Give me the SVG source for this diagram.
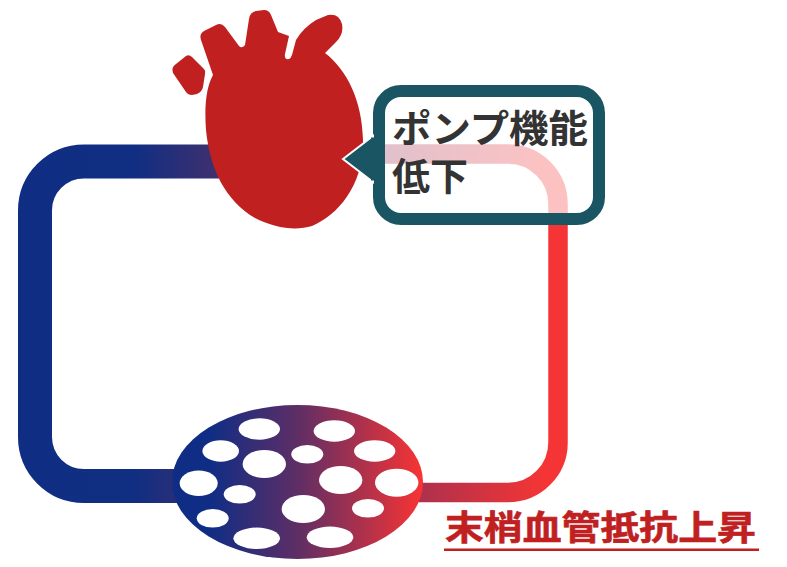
<svg xmlns="http://www.w3.org/2000/svg" width="787" height="567" viewBox="0 0 787 567">
  <defs>
    <linearGradient id="veinGrad" gradientUnits="userSpaceOnUse" x1="0" y1="0" x2="230" y2="0">
      <stop offset="0" stop-color="#0f2d82"/>
      <stop offset="0.58" stop-color="#102e82"/>
      <stop offset="1" stop-color="#46306c"/>
    </linearGradient>
    <linearGradient id="arteryGrad" gradientUnits="userSpaceOnUse" x1="390" y1="0" x2="545" y2="0">
      <stop offset="0" stop-color="#9c3052"/>
      <stop offset="1" stop-color="#f53535"/>
    </linearGradient>
    <linearGradient id="bedGrad" x1="0" y1="0" x2="1" y2="0">
      <stop offset="0" stop-color="#0f2d85"/>
      <stop offset="0.15" stop-color="#0f2d85"/>
      <stop offset="0.5" stop-color="#5e2e65"/>
      <stop offset="1" stop-color="#f83434"/>
    </linearGradient>
    <style>
      .band { fill: none; stroke-linecap: butt; stroke-linejoin: round; }
      .hole { fill: #ffffff; }
      .jp { font-family: "Noto Sans CJK JP", "Noto Sans", sans-serif; font-weight: 700; }
    </style>
  </defs>

  <!-- circulation loop -->
  <g id="connectors">
    <path id="vein" class="band" stroke="url(#veinGrad)" stroke-width="34"
          d="M 230 161.5 H 84 A 49 49 0 0 0 35 210.5 V 437 A 49 49 0 0 0 84 486 H 210"/>
    <path id="artery" class="band" stroke="url(#arteryGrad)" stroke-width="19.5"
          d="M 350 154 H 508 A 50 50 0 0 1 558 204 V 442 A 50 50 0 0 1 508 492.5 H 400"/>
  </g>

  <!-- peripheral vascular bed -->
  <g id="vascular-bed">
    <ellipse cx="297.5" cy="482" rx="125.5" ry="77" fill="url(#bedGrad)"/>
    <ellipse class="hole" cx="259.3" cy="429" rx="20.7" ry="10.7"/>
    <ellipse class="hole" cx="334.3" cy="431" rx="20.7" ry="10.7"/>
    <ellipse class="hole" cx="220.7" cy="451" rx="18.3" ry="10.7"/>
    <ellipse class="hole" cx="264.3" cy="464" rx="21.7" ry="14"/>
    <ellipse class="hole" cx="307.3" cy="454.3" rx="16" ry="9.3"/>
    <ellipse class="hole" cx="374.7" cy="451" rx="20.7" ry="10.7"/>
    <ellipse class="hole" cx="340.7" cy="480" rx="21.7" ry="14"/>
    <ellipse class="hole" cx="396.7" cy="482.7" rx="21.7" ry="14"/>
    <ellipse class="hole" cx="198.7" cy="483.3" rx="19" ry="12.7"/>
    <ellipse class="hole" cx="239.7" cy="494.3" rx="16" ry="9.3"/>
    <ellipse class="hole" cx="303.3" cy="509" rx="21.7" ry="14"/>
    <ellipse class="hole" cx="368" cy="508.3" rx="16" ry="9.3"/>
    <ellipse class="hole" cx="212.7" cy="518.3" rx="16" ry="9.3"/>
    <ellipse class="hole" cx="256.7" cy="538.3" rx="23.3" ry="10.7"/>
    <ellipse class="hole" cx="330" cy="537.3" rx="23.3" ry="10.7"/>
  </g>

  <!-- heart -->
  <g id="heart" fill="#c0201f">
    <path d="M 176 64 L 186 56 Q 189 54 192 57 L 204 69 Q 206 71 205 74 L 203 87 Q 202 92 197 94 L 192 95 Q 188 95 186 92 L 173 73 Q 171 67 176 64 Z"/>
    <path d="M 213 75 L 201 40 Q 199 34 204 31 L 216 25 Q 221 22 225 27 L 239 46 Q 242 49 245 45 L 249 19 Q 250 12 256 11 L 264 10 Q 269 10 271 15 L 278 32 L 289 36 L 285 54 Q 284 60 289 59 Q 291 58 292 55 L 296 40 Q 303 28 316 20 L 328 15 Q 339 13 342 24 Q 344 34 336 42 L 325 53 C 347 70 362 100 363 140 C 364 185 338 215 312 226 C 295 231 275 228 255 218 C 226 201 210 170 206 130 C 204 103 207 86 213 75 Z"/>
  </g>

  <!-- callout -->
  <g id="callout">
    <rect x="379" y="91" width="220" height="128" rx="22" ry="22" fill="#ffffff" fill-opacity="0.7" stroke="#1a5563" stroke-width="12"/>
    <polygon points="343,159 373,136 373,182" fill="#1a5563" stroke="#ffffff" stroke-width="2" stroke-linejoin="miter"/>
    <rect x="371" y="137.5" width="8" height="43" fill="#1a5563"/>
    <text class="jp" font-size="38" fill="#333333"><tspan x="392" y="142" textLength="196" lengthAdjust="spacingAndGlyphs">ポンプ機能</tspan><tspan x="392" y="190">低下</tspan></text>
  </g>

  <!-- resistance label -->
  <g id="label">
    <text class="jp" x="445" y="540" font-size="34" fill="#c0201f" stroke="#c0201f" stroke-width="0.6" textLength="311" lengthAdjust="spacingAndGlyphs">末梢血管抵抗上昇</text>
    <rect x="444" y="548.5" width="315" height="2.5" fill="#c0201f"/>
  </g>
</svg>
